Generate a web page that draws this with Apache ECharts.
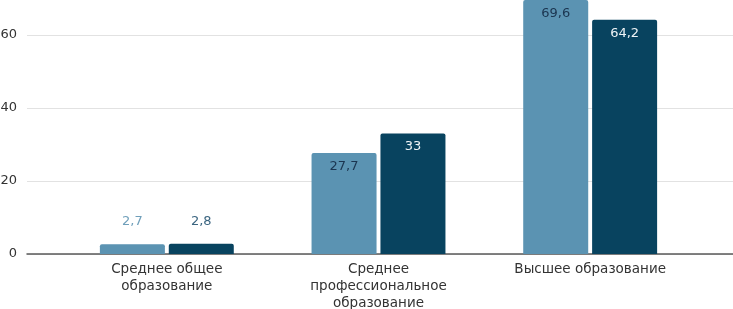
<!DOCTYPE html>
<html>
<head>
<meta charset="utf-8">
<script src="https://cdn.jsdelivr.net/npm/echarts@6/dist/echarts.min.js"></script>
<style>html,body{margin:0;padding:0;background:#fff;overflow:hidden;width:733px;height:309px}#c{position:absolute;left:0;top:-38px;width:733px;height:347px}</style>
</head>
<body>
<div id="c"></div>
<script>
const categories = ['Среднее общее\nобразование', 'Среднее\nпрофессиональное\nобразование', 'Высшее образование'];
const seriesA = [2.7, 27.7, 69.6];
const seriesB = [2.8, 33, 64.2];
const yTicks = [0, 20, 40, 60, 80];

const chart = echarts.init(document.getElementById('c'));
const fmt = p => String(p.value).replace('.', ',');
const font = 'DejaVu Sans, sans-serif';

const dataA = seriesA.map(v => v < 10 ? {value: v, label: {position: 'top', distance: 16, color: '#6f9fba'}} : v);
const dataB = seriesB.map(v => v < 10 ? {value: v, label: {position: 'top', distance: 16, color: '#3b6580'}} : v);

chart.setOption({
  animation: false,
  grid: [
    {left: 27, right: 0, top: 0, bottom: 55, containLabel: false, outerBoundsMode: 'none'},
    {left: 61, right: 37, top: 0, bottom: 55, containLabel: false, outerBoundsMode: 'none'}
  ],
  xAxis: [
    {gridIndex: 0, type: 'category', data: categories, axisLabel: {show: false}, axisTick: {show: false},
     axisLine: {show: true, lineStyle: {color: '#5a5a5a', width: 1.5}}},
    {gridIndex: 1, type: 'category', data: categories, axisTick: {show: false}, axisLine: {show: false},
     axisLabel: {color: '#333', fontSize: 13.5, fontFamily: font, lineHeight: 17, margin: 7, interval: 0}}
  ],
  yAxis: [
    {gridIndex: 0, type: 'value', min: yTicks[0], max: yTicks[yTicks.length - 1], interval: 20,
     axisLine: {show: false}, axisTick: {show: false},
     axisLabel: {color: '#333', fontSize: 13, fontFamily: font, margin: 10},
     splitLine: {lineStyle: {color: '#e2e2e2', width: 1}}},
    {gridIndex: 1, type: 'value', min: yTicks[0], max: yTicks[yTicks.length - 1], interval: 20, show: false,
     splitLine: {show: false}}
  ],
  series: [
    {type: 'bar', xAxisIndex: 1, yAxisIndex: 1, data: dataA, barWidth: 65, barGap: '6%',
     itemStyle: {color: '#5b93b2', borderRadius: [2, 2, 0, 0]},
     label: {show: true, fontSize: 13, fontFamily: font, formatter: fmt,
       position: 'insideTop', distance: 7, color: '#1b3550'},
     z: 3},
    {type: 'bar', xAxisIndex: 1, yAxisIndex: 1, data: dataB, barWidth: 65,
     itemStyle: {color: '#08435f', borderRadius: [2, 2, 0, 0]},
     label: {show: true, fontSize: 13, fontFamily: font, formatter: fmt,
       position: 'insideTop', distance: 7, color: '#eef3f6'},
     z: 3}
  ]
});
</script>
</body>
</html>
